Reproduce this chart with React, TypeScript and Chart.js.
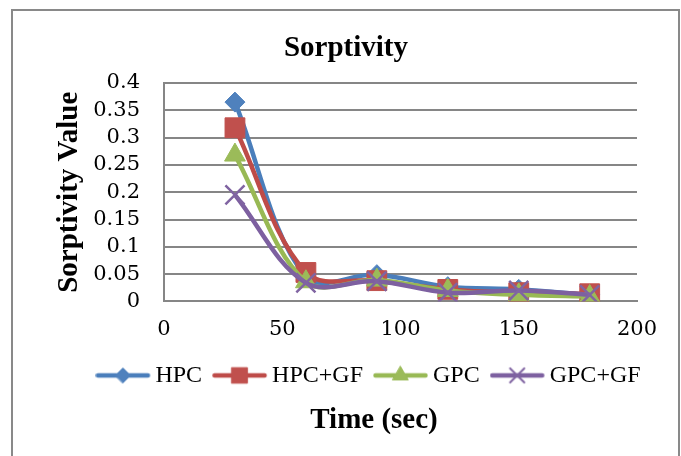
import React, { useEffect, useRef } from 'react';
import { Chart, registerables } from 'chart.js';
import { drawPoint } from 'chart.js/helpers';

Chart.register(...registerables);

// ---- data ----
const timeSec = [30, 60, 90, 120, 150, 180];
const seriesNames = ['HPC', 'HPC+GF', 'GPC', 'GPC+GF'];
const hpc = [0.365, 0.045, 0.049, 0.027, 0.022, 0.012];
const hpcGf = [0.318, 0.053, 0.038, 0.022, 0.016, 0.014];
const gpc = [0.268, 0.036, 0.039, 0.02, 0.012, 0.009];
const gpcGf = [0.195, 0.034, 0.037, 0.016, 0.02, 0.012];
const chartTitle = 'Sorptivity';
const yTitle = 'Sorptivity Value';
const xTitle = 'Time (sec)';

// ---- styles ----
const lineColors = ['#4A7EBB', '#BE4B48', '#98B954', '#7D60A0'];
const markerColors = ['#4F81BD', '#C0504D', '#9BBB59', '#8064A2'];
const markerStyles = ['rectRot', 'rect', 'triangle', 'crossRot'];
const markerRadii = [10, 14, 12, 13.5];
const legendRadii = [7.5, 11, 9, 10];
const seriesValues = [hpc, hpcGf, gpc, gpcGf];

function makeIcon(i: number): HTMLCanvasElement {
  const c = document.createElement('canvas');
  c.width = 60;
  c.height = 24;
  const ctx = c.getContext('2d') as CanvasRenderingContext2D;
  ctx.strokeStyle = lineColors[i];
  ctx.lineWidth = 4.5;
  ctx.lineCap = 'round';
  ctx.beginPath();
  ctx.moveTo(2.5, 12);
  ctx.lineTo(52.5, 12);
  ctx.stroke();
  ctx.fillStyle = markerColors[i];
  ctx.strokeStyle = markerColors[i];
  const bw = markerStyles[i] === 'crossRot' ? 2 : 1;
  ctx.lineWidth = bw;
  drawPoint(ctx, { pointStyle: markerStyles[i], radius: legendRadii[i], borderWidth: bw, rotation: 0 } as any, 27.5, 12);
  return c;
}

const shiftPlugin = {
  id: 'shiftBottomBoxes',
  afterLayout(chart: any) {
    const dx = 28;
    const lg = chart.legend;
    if (lg) {
      lg.left += dx;
      lg.right += dx;
    }
    chart.boxes.forEach((b: any) => {
      if (b && b.options && b.options.text === xTitle) {
        b.left += dx;
        b.right += dx;
      }
    });
  },
};

export default function App() {
  const ref = useRef<HTMLCanvasElement | null>(null);

  useEffect(() => {
    if (!ref.current) return;
    const icons = seriesNames.map((_, i) => makeIcon(i));
    const datasets = seriesNames.map((name, i) => ({
      label: name,
      data: timeSec.map((t, j) => ({ x: t, y: seriesValues[i][j] })),
      borderColor: lineColors[i],
      backgroundColor: markerColors[i],
      borderWidth: 4.5,
      tension: 0.35,
      pointStyle: markerStyles[i],
      pointRadius: markerRadii[i],
      pointBackgroundColor: markerColors[i],
      pointBorderColor: markerColors[i],
      pointBorderWidth: markerStyles[i] === 'crossRot' ? 2.5 : 1,
      order: seriesNames.length - 1 - i,
    }));

    const chart = new Chart(ref.current, {
      type: 'line',
      data: { datasets },
      plugins: [shiftPlugin],
      options: {
        animation: false,
        responsive: false,
        layout: { padding: { left: 55, right: 44, top: 0, bottom: 18.4 } },
        scales: {
          x: {
            type: 'linear',
            min: 0,
            max: 200,
            ticks: {
              stepSize: 50,
              padding: 16,
              color: '#000',
              font: { family: 'DejaVu Serif', size: 21 },
            },
            grid: { display: false, drawTicks: false },
            border: { display: true, color: '#868686', width: 2 },
            afterFit: (scale: any) => {
              scale.height = 40;
            },
          },
          y: {
            min: 0,
            max: 0.4,
            ticks: {
              stepSize: 0.05,
              autoSkip: false,
              padding: 24,
              color: '#000',
              font: { family: 'DejaVu Serif', size: 21 },
              callback: (v: any) => String(Number(Number(v).toFixed(2))),
            },
            grid: { color: '#868686', lineWidth: 2, drawTicks: false },
            border: { display: true, color: '#868686', width: 2 },
            title: {
              display: true,
              text: yTitle,
              color: '#000',
              padding: 0,
              font: { family: 'Liberation Serif', size: 29, weight: 'bold', lineHeight: 1 },
            },
            afterFit: (scale: any) => {
              scale.width = 109;
            },
          },
        },
        plugins: {
          title: {
            display: true,
            text: chartTitle,
            color: '#000',
            font: { family: 'Liberation Serif', size: 29, weight: 'bold', lineHeight: 1.2 },
            padding: { top: 31.6, bottom: 16.6 },
          },
          subtitle: {
            display: true,
            position: 'bottom',
            text: xTitle,
            color: '#000',
            font: { family: 'Liberation Serif', size: 29, weight: 'bold', lineHeight: 1.2 },
            padding: { top: 5.4, bottom: 0 },
          },
          legend: {
            position: 'bottom',
            labels: {
              usePointStyle: true,
              pointStyleWidth: 36,
              padding: 22,
              color: '#000',
              font: { family: 'Liberation Serif', size: 24 },
              sort: (a: any, b: any) => a.datasetIndex - b.datasetIndex,
              generateLabels: (ch: any) => {
                const base = (Chart.defaults.plugins.legend.labels as any).generateLabels(ch);
                return base.map((item: any) => ({ ...item, pointStyle: icons[item.datasetIndex], rotation: 0 }));
              },
            },
          },
          tooltip: { enabled: false },
        },
      } as any,
    });
    return () => chart.destroy();
  }, []);

  return (
    <div style={{ position: 'fixed', left: 0, top: 0, width: 681, height: 456, background: '#fff', overflow: 'hidden' }}>
      <canvas ref={ref} width={681} height={456} style={{ display: 'block', position: 'absolute', left: 0, top: 0 }} />
      <div
        style={{
          position: 'absolute',
          left: 11,
          top: 9,
          width: 665,
          height: 470,
          border: '2px solid #898989',
          pointerEvents: 'none',
        }}
      />
    </div>
  );
}
